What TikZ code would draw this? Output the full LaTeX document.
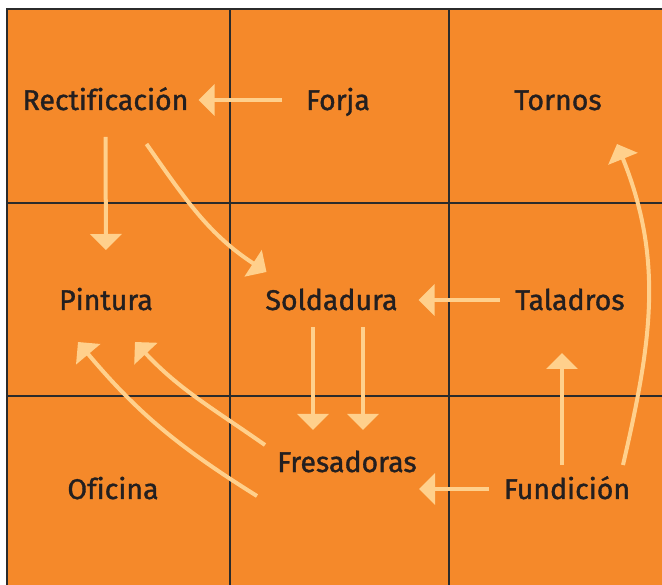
\documentclass[tikz,border=0pt]{standalone}
\usepackage{fontspec}
\setmainfont{Fira Sans}[Ligatures=NoCommon,FakeBold=1.2]
\usetikzlibrary{arrows.meta}
\definecolor{plantorange}{HTML}{F5892A}
\definecolor{flowpeach}{HTML}{FFD08C}
\definecolor{gridline}{HTML}{2B2B2B}
\definecolor{labeltext}{HTML}{231F20}

\begin{document}
\begin{tikzpicture}[x=1pt,y=1pt,
  area/.style={font=\fontsize{28.5}{30}\selectfont,text=labeltext,inner sep=0pt,text height=20pt,text depth=0pt,anchor=center},
  flow/.style={draw=flowpeach,line width=4pt,-{Triangle[length=16pt,width=31pt]}},
  wall/.style={draw=gridline,line width=2pt}]
\useasboundingbox (0,0) rectangle (662,-585);
\fill[plantorange] (7,-9) rectangle (662,-585);
\draw[wall] (7,-585) -- (7,-9) -- (662,-9);
\draw[wall] (230,-9) -- (230,-585);
\draw[wall] (449,-9) -- (449,-585);
\draw[wall] (7,-203) -- (662,-203);
\draw[wall] (7,-396) -- (662,-396);

\node[area] (rect) at (105.5,-100) {Rectificación};
\node[area] (forja) at (338,-100) {Forja};
\node[area] (tornos) at (558,-100) {Tornos};
\node[area] (pint) at (106,-300) {Pintura};
\node[area] (sold) at (331.5,-300) {Soldadura};
\node[area] (tal) at (570,-300) {Taladros};
\node[area] (ofi) at (113,-489) {Oficina};
\node[area] (fres) at (347,-462) {Fresadoras};
\node[area] (fund) at (567,-489) {Fundición};

% straight flows
\draw[flow,shorten <=56pt,shorten >=93pt] (forja.center) -- (rect.center);
\draw[flow,shorten <=37pt,shorten >=50pt] (rect.center) -- (pint.center);
\draw[flow,shorten <=70pt,shorten >=87pt] (tal.center) -- (sold.center);
\draw[flow,shorten <=78pt,shorten >=72pt] (fund.center) -- (fund.center -| fres.center);
\draw[flow,shorten <=24pt,shorten >=53pt] ([xshift=-5pt]fund.center) -- ([xshift=-5pt]fund.center |- tal.center);
\draw[flow,shorten <=27pt,shorten >=32pt] ([xshift=-18.5pt]sold.center) -- ([xshift=-18.5pt]sold.center |- fres.center);
\draw[flow,shorten <=27pt,shorten >=32pt] ([xshift=31.5pt]sold.center) -- ([xshift=31.5pt]sold.center |- fres.center);

% curved flows
\draw[flow] ([shift={(41,-44)}]rect.center) to[out=-55,in=147] ([shift={(-65,28)}]sold.center);
\draw[flow] ([shift={(-82,17)}]fres.center) to[out=145,in=-47] ([shift={(29,-42)}]pint.center);
\draw[flow] ([shift={(-90,-34)}]fres.center) to[out=148,in=-50] ([shift={(-28,-42)}]pint.center);
\draw[flow] ([shift={(56,24)}]fund.center) to[out=77,in=-68] ([shift={(59,-44)}]tornos.center);
\end{tikzpicture}
\end{document}
